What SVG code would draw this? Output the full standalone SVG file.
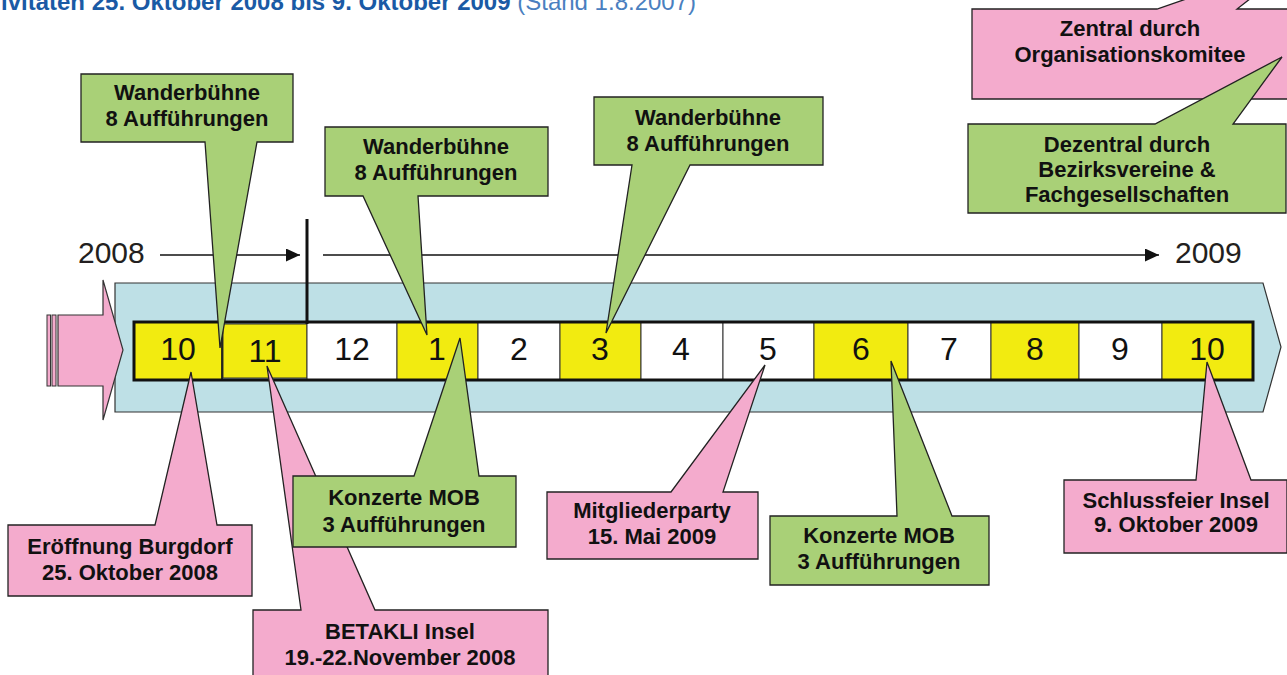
<svg xmlns="http://www.w3.org/2000/svg" width="1287" height="675" viewBox="0 0 1287 675">
<style>
.g{fill:#a9d077;stroke:#222;stroke-width:1.3;stroke-linejoin:miter}
.p{fill:#f4abcd;stroke:#222;stroke-width:1.3;stroke-linejoin:miter}
.lbl{font-family:"Liberation Sans",Arial,sans-serif;font-weight:bold;font-size:22px;fill:#111;text-anchor:middle}
.num{font-family:"Liberation Sans",Arial,sans-serif;font-size:32px;fill:#111;text-anchor:middle}
.yr{font-family:"Liberation Sans",Arial,sans-serif;font-size:30px;fill:#231f20}
.y{fill:#f2eb10;stroke:#333;stroke-width:1}
.w{fill:#fff;stroke:#333;stroke-width:1}
</style>
<defs>
<marker id="ah" viewBox="0 0 14 13" refX="14" refY="6.5" markerWidth="14" markerHeight="13" markerUnits="userSpaceOnUse" orient="auto">
<path d="M0,0 L14,6.5 L0,13 Z" fill="#111"/>
</marker>
</defs>

<text x="1" y="10" font-family="Liberation Sans, Arial, sans-serif" font-size="24" fill="#1a5aa5"><tspan font-weight="bold">ivitäten 25. Oktober 2008 bis 9. Oktober 2009 </tspan><tspan font-weight="normal" fill="#4a7fc0">(Stand 1.8.2007)</tspan></text>

<g id="band">
<polygon points="115,283 1263,283 1281,347 1263,412 115,412" fill="#bee0e6" stroke="#333" stroke-width="1.2"/>
</g>
<g id="start-arrow">
<rect x="47" y="315" width="3.5" height="71" fill="#f4abcd" stroke="#333" stroke-width="1"/>
<rect x="52" y="315" width="4" height="71" fill="#f4abcd" stroke="#333" stroke-width="1"/>
<polygon points="58,315 103,315 103,280 123,350 103,420 103,386 58,386" fill="#f4abcd" stroke="#333" stroke-width="1.2"/>
</g>

<g id="months">
<rect class="y" x="134" y="322" width="88" height="58"/>
<rect class="y" x="223" y="324" width="84" height="54"/>
<rect class="w" x="307" y="322" width="90" height="58"/>
<rect class="y" x="397" y="322" width="81" height="58"/>
<rect class="w" x="478" y="322" width="82" height="58"/>
<rect class="y" x="560" y="322" width="81" height="58"/>
<rect class="w" x="641" y="322" width="82" height="58"/>
<rect class="w" x="723" y="322" width="91" height="58"/>
<rect class="y" x="814" y="322" width="94" height="58"/>
<rect class="w" x="908" y="322" width="83" height="58"/>
<rect class="y" x="991" y="322" width="88" height="58"/>
<rect class="w" x="1079" y="322" width="83" height="58"/>
<rect class="y" x="1162" y="322" width="91" height="58"/>
<rect x="134" y="322" width="1119" height="58" fill="none" stroke="#111" stroke-width="3"/>
<line x1="222" y1="322" x2="222" y2="380" stroke="#111" stroke-width="1.5"/>
<text class="num" x="178" y="360">10</text>
<text class="num" x="265" y="362">11</text>
<text class="num" x="352" y="360">12</text>
<text class="num" x="437" y="360">1</text>
<text class="num" x="519" y="360">2</text>
<text class="num" x="600" y="360">3</text>
<text class="num" x="681" y="360">4</text>
<text class="num" x="768" y="360">5</text>
<text class="num" x="861" y="360">6</text>
<text class="num" x="949" y="360">7</text>
<text class="num" x="1035" y="360">8</text>
<text class="num" x="1120" y="360">9</text>
<text class="num" x="1207" y="360">10</text>
</g>

<g id="connectors">
<line x1="160" y1="255" x2="300" y2="255" stroke="#111" stroke-width="1.3" marker-end="url(#ah)"/>
<line x1="323" y1="255" x2="1159" y2="255" stroke="#111" stroke-width="1.3" marker-end="url(#ah)"/>
<line x1="307" y1="219" x2="307" y2="324" stroke="#111" stroke-width="3"/>
</g>

<text class="yr" x="78" y="263">2008</text>
<text class="yr" x="1175" y="263">2009</text>

<g id="zentral">
<path class="p" d="M972,9 L1157,9 L1300,-40 L1237,9 L1290,9 L1290,99 L972,99 Z"/>
<text class="lbl" x="1130" y="36">Zentral durch</text>
<text class="lbl" x="1130" y="62">Organisationskomitee</text>
</g>
<g id="dezentral">
<path class="g" d="M968,124 L1155,124 L1282,57 L1233,124 L1286,124 L1286,213 L968,213 Z"/>
<text class="lbl" x="1127" y="152">Dezentral durch</text>
<text class="lbl" x="1127" y="177">Bezirksvereine &amp;</text>
<text class="lbl" x="1127" y="202">Fachgesellschaften</text>
</g>

<g id="wander1">
<path class="g" d="M81,74 L293,74 L293,142 L257,142 L220,348 L205,142 L81,142 Z"/>
<text class="lbl" x="187" y="100">Wanderbühne</text>
<text class="lbl" x="187" y="126">8 Aufführungen</text>
</g>
<g id="wander2">
<path class="g" d="M325,127 L548,127 L548,196 L418,196 L427,335 L363,196 L325,196 Z"/>
<text class="lbl" x="436" y="154">Wanderbühne</text>
<text class="lbl" x="436" y="180">8 Aufführungen</text>
</g>
<g id="wander3">
<path class="g" d="M594,97 L823,97 L823,165 L690,165 L606,333 L632,165 L594,165 Z"/>
<text class="lbl" x="708" y="125">Wanderbühne</text>
<text class="lbl" x="708" y="151">8 Aufführungen</text>
</g>

<g id="eroeffnung">
<path class="p" d="M8,525 L155,525 L191,372 L217,525 L252,525 L252,596 L8,596 Z"/>
<text class="lbl" x="130" y="554">Eröffnung Burgdorf</text>
<text class="lbl" x="130" y="580">25. Oktober 2008</text>
</g>
<g id="betakli">
<path class="p" d="M253,610 L301,610 L267,366 L375,610 L548,610 L548,700 L253,700 Z"/>
<text class="lbl" x="400" y="639">BETAKLI Insel</text>
<text class="lbl" x="400" y="665">19.-22.November 2008</text>
</g>
<g id="konzerte1">
<path class="g" d="M293,476 L414,476 L460,338 L479,476 L516,476 L516,547 L293,547 Z"/>
<text class="lbl" x="404" y="505">Konzerte MOB</text>
<text class="lbl" x="404" y="532">3 Aufführungen</text>
</g>
<g id="mitglieder">
<path class="p" d="M547,492 L671,492 L765,365 L723,492 L758,492 L758,559 L547,559 Z"/>
<text class="lbl" x="652" y="518">Mitgliederparty</text>
<text class="lbl" x="652" y="544">15. Mai 2009</text>
</g>
<g id="konzerte2">
<path class="g" d="M770,516 L897,516 L891,361 L952,516 L989,516 L989,585 L770,585 Z"/>
<text class="lbl" x="879" y="543">Konzerte MOB</text>
<text class="lbl" x="879" y="569">3 Aufführungen</text>
</g>
<g id="schluss">
<path class="p" d="M1064,480 L1196,480 L1207,362 L1251,480 L1287,480 L1287,553 L1064,553 Z"/>
<text class="lbl" x="1176" y="508">Schlussfeier Insel</text>
<text class="lbl" x="1176" y="532">9. Oktober 2009</text>
</g>
</svg>
